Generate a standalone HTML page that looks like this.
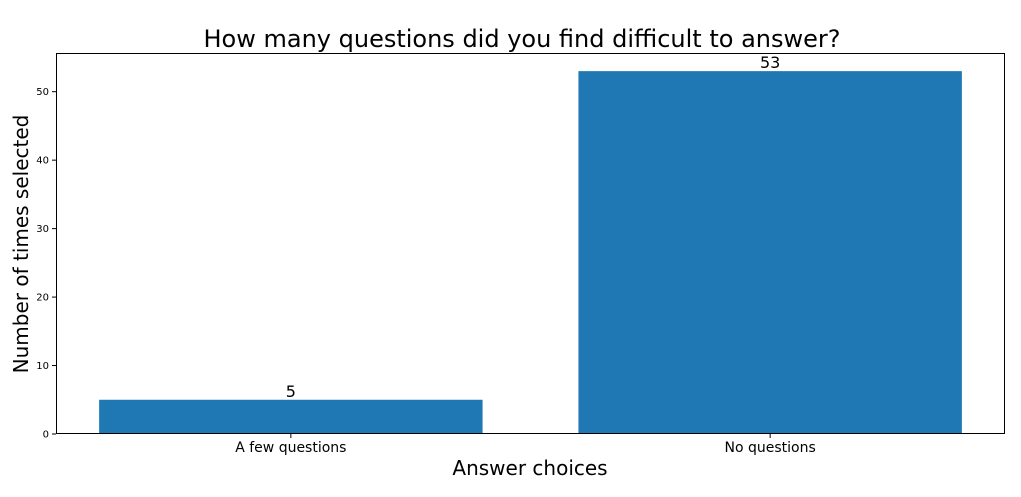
<!DOCTYPE html>
<html><head><meta charset="utf-8"><style>
body{margin:0;background:#fff;}
svg{display:block;font-family:"DejaVu Sans","Liberation Sans",sans-serif;}
</style></head><body>
<svg id="chart" width="1021" height="497">
<text x="522" y="47" text-anchor="middle" font-size="24" fill="#000">How many questions did you find difficult to answer?</text>
<text x="530" y="475" text-anchor="middle" font-size="20" fill="#000">Answer choices</text>
<text transform="translate(28,244) rotate(-90)" text-anchor="middle" font-size="20" fill="#000">Number of times selected</text>
<g id="plot"></g>
</svg>
<script>
const categories = ["A few questions", "No questions"];
const values = [5, 53];
const yTicks = [0, 10, 20, 30, 40, 50];
const L = 56, R = 1005, T = 53, B = 434;
const yMax = 55.65, xMin = -0.49, xMax = 1.49;
const ys = v => B - (v / yMax) * (B - T);
const xs = i => L + (i - xMin) / (xMax - xMin) * (R - L);
const NS = "http://www.w3.org/2000/svg";
const g = document.getElementById('plot');
function mk(tag, attrs, text) {
  const e = document.createElementNS(NS, tag);
  for (const k in attrs) e.setAttribute(k, attrs[k]);
  if (text !== undefined) e.textContent = text;
  g.appendChild(e);
  return e;
}
const unit = (R - L) / (xMax - xMin);
values.forEach((v, i) => {
  const x0 = xs(i) - 0.4 * unit;
  const r = mk('rect', {x: x0, y: ys(v), width: 0.8 * unit, height: B - ys(v), fill: '#1f77b4'});
  
  
  const t = mk('text', {x: xs(i), y: ys(v) - 3, 'text-anchor': 'middle', 'font-size': 16, fill: '#000'}, String(v));
  
  
  const tk = mk('line', {x1: xs(i), x2: xs(i), y1: B, y2: B + 4, stroke: '#000'});
  
  
  const tl = mk('text', {x: xs(i), y: B + 18, 'text-anchor': 'middle', 'font-size': 14, fill: '#000'}, categories[i]);
  
  
});
yTicks.forEach(v => {
  const tk = mk('line', {x1: L - 4, x2: L, y1: ys(v), y2: ys(v), stroke: '#000'});
  
  
  const tl = mk('text', {x: L - 7, y: ys(v) + 3.5, 'text-anchor': 'end', 'font-size': 10, fill: '#000'}, String(v));
  
  
});
const frame = mk('rect', {x: L + 0.5, y: T + 0.5, width: R - L - 1, height: B - T - 1, fill: 'none', stroke: '#000', 'stroke-width': 1});


</script>
</body></html>
